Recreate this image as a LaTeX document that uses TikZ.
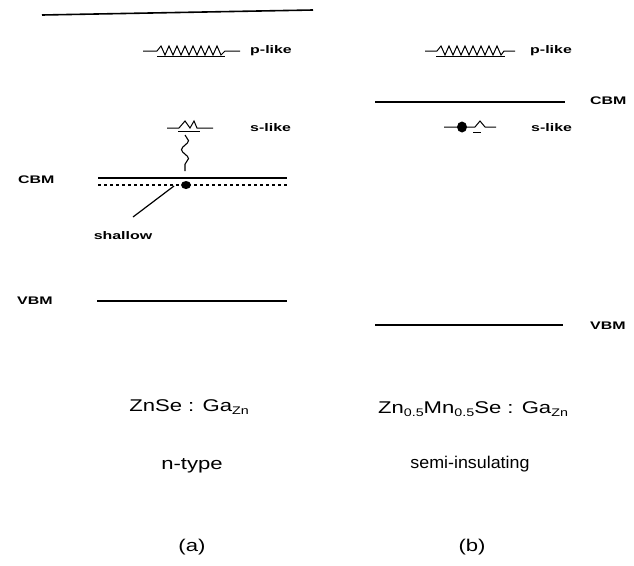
\documentclass[tikz,border=0pt]{standalone}
\usepackage{fontspec}
\usepackage{graphicx}
\setmainfont{Liberation Sans}
\usetikzlibrary{decorations.pathmorphing}
\newcommand{\lsub}[1]{\raisebox{-0.4ex}{\fontsize{11}{12}\selectfont #1}}
\newcommand{\wideL}[1]{\scalebox{1.45}[1]{#1}}
\newcommand{\wideC}[1]{\scalebox{1.3}[1]{#1}}
\begin{document}
\begin{tikzpicture}[x=1pt,y=-1pt,
  level/.style={line width=1.6pt},
  lbl/.style={font=\bfseries\fontsize{11}{13}\selectfont, anchor=west, inner sep=0pt},
  captxt/.style={font=\fontsize{17}{20}\selectfont, inner sep=0pt},
  wave/.style={line width=1pt}]
\useasboundingbox (0,0) rectangle (634,565);
% top line
\coordinate (t1) at (42,15);
\coordinate (t2) at (313,10);
\draw[level] (t1) -- (t2);

% ---------- panel (a) ----------
% p-like band
\draw[wave] (143,51) -- (157,51) -- (161,46) -- (165,55) -- (169,46) -- (173,55) -- (177,46) -- (181,55) -- (185,46)
  -- (189,55) -- (193,46) -- (197,55) -- (201,46) -- (205,55) -- (209,46) -- (213,55) -- (217,46) -- (221,55) -- (225,51) -- (240,51);
\draw[line width=0.8pt] (157,56) -- (225,56);
\node[lbl] (pa) at (250,51) {\wideL{p-like}};

% s-like
\draw[wave] (167,128) -- (179,128) -- (185,121) -- (190,128) -- (194,121) -- (197,128) -- (213,128);
\draw[line width=0.8pt] (178,131) -- (200,131);
\node[lbl] (sa) at (250,128) {\wideL{s-like}};
\coordinate (sq1) at (185,135);
\coordinate (sq2) at (185,171);
\draw[line width=1.1pt, decorate, decoration={snake, amplitude=3.5pt, segment length=18pt}] (sq1) -- (sq2);

% CBM (a)
\draw[level] (98,178) -- (287,178);
\draw[line width=1.2pt, dash pattern=on 3pt off 3pt] (98,185) -- (287,185);
\node[lbl] (cbma) at (18,180) {\wideL{CBM}};
\fill (186,185) ellipse (5pt and 4pt);
\coordinate (dot) at (174,186);
\coordinate (shend) at (133,217);
\draw[line width=1.2pt] (dot) -- (shend);
\node[lbl, anchor=north] (shallow) at (123,231) {\wideL{shallow}};

% VBM (a)
\draw[level] (97,301) -- (287,301);
\node[lbl] (vbma) at (17,301) {\wideL{VBM}};

% ---------- panel (b) ----------
\draw[wave] (425,51) -- (437,51) -- (441,46) -- (445,55) -- (449,46) -- (453,55) -- (457,46) -- (461,55) -- (465,46)
  -- (469,55) -- (473,46) -- (477,55) -- (481,46) -- (485,55) -- (489,46) -- (493,55) -- (497,46) -- (501,55) -- (504,51) -- (515,51);
\draw[line width=0.8pt] (436,56) -- (505,56);
\node[lbl] (pb) at (530,51) {\wideL{p-like}};

\draw[level] (375,102) -- (565,102);
\node[lbl] (cbmb) at (590,101) {\wideL{CBM}};

\draw[wave] (444,127) -- (475,127) -- (480,121) -- (485,127) -- (496,127);
\fill (462,127) ellipse (5pt and 5.5pt);
\draw[line width=0.8pt] (473,132) -- (481,132);
\node[lbl] (sb) at (531,128) {\wideL{s-like}};

\draw[level] (375,325) -- (563,325);
\node[lbl] (vbmb) at (590,326) {\wideL{VBM}};

% ---------- captions ----------
\node[captxt] (capa) at (189,407) {\wideC{ZnSe : Ga\lsub{Zn}}};
\node[captxt] (capb) at (473,409) {\wideC{Zn\lsub{0.5}Mn\lsub{0.5}Se : Ga\lsub{Zn}}};
\node[captxt] (typea) at (192,466) {\wideC{n-type}};
\node[captxt] (typeb) at (470,464) {\scalebox{1.05}[1]{semi-insulating}};
\node[captxt] (la) at (192,547) {\wideC{(a)}};
\node[captxt] (lb) at (472,547) {\wideC{(b)}};
\end{tikzpicture}
\end{document}
